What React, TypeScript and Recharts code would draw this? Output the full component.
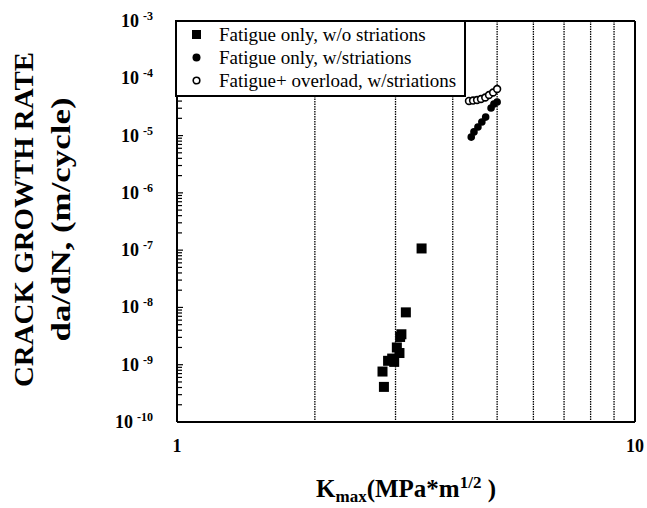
import React from 'react';
import {
  ScatterChart, Scatter, XAxis, YAxis, CartesianGrid, ReferenceLine, Legend,
} from 'recharts';

// ---- data ----
const seriesNames = [
  'Fatigue only, w/o striations',
  'Fatigue only, w/striations',
  'Fatigue+ overload, w/striations',
];

const noStriationK = [3.42, 3.16, 3.09, 3.07, 3.02, 3.06, 2.95, 2.89, 2.98, 2.81, 2.83];
const noStriationRate = [1.07e-7, 8.2e-9, 3.4e-9, 3.05e-9, 2.0e-9, 1.6e-9, 1.28e-9, 1.17e-9, 1.12e-9, 7.6e-10, 4.1e-10];

const striationK = [4.39, 4.45, 4.54, 4.63, 4.72, 4.85, 4.92, 5.0];
const striationRate = [9.4e-6, 1.16e-5, 1.41e-5, 1.73e-5, 2.1e-5, 3.03e-5, 3.56e-5, 3.85e-5];

const overloadK = [4.34, 4.43, 4.52, 4.61, 4.71, 4.8, 4.9, 5.0];
const overloadRate = [4.02e-5, 4.09e-5, 4.18e-5, 4.35e-5, 4.62e-5, 5.11e-5, 5.65e-5, 6.5e-5];

const xTicks = [1, 2, 3, 4, 5, 6, 7, 8, 9, 10];
const xTickLabels = ['1', '10'];
const yMajorTicks = [1e-10, 1e-9, 1e-8, 1e-7, 1e-6, 1e-5, 1e-4, 1e-3];
const yMajorExponents = ['-10', '-9', '-8', '-7', '-6', '-5', '-4', '-3'];
const yMinorMultipliers = [2, 3, 4, 5, 6, 7, 8, 9];

const noStriationData = noStriationK.map((k, i) => ({ k, rate: noStriationRate[i] }));
const striationData = striationK.map((k, i) => ({ k, rate: striationRate[i] }));
const overloadData = overloadK.map((k, i) => ({ k, rate: overloadRate[i] }));

const yTicks: number[] = [];
yMajorTicks.forEach((m, i) => {
  yTicks.push(m);
  if (i < yMajorTicks.length - 1) yMinorMultipliers.forEach((mm) => yTicks.push(mm * m));
});

const FONT = "'Liberation Serif', 'Times New Roman', Times, serif";

const isMajor = (v: number) => {
  const l = Math.log10(v);
  return Math.abs(l - Math.round(l)) < 1e-6;
};

const YTick = (props: any) => {
  const { x, y, payload } = props;
  const v = payload.value;
  if (isMajor(v)) {
    const idx = yMajorTicks.findIndex((t) => Math.abs(Math.log10(t) - Math.log10(v)) < 1e-6);
    return (
      <g>
        <line x1={x} x2={x + 6} y1={y} y2={y} stroke="#000" strokeWidth={1.2} />
        <text x={x - 24} y={y + 6} textAnchor="end" fontFamily={FONT} fontWeight="bold" fill="#000">
          <tspan fontSize={18}>10</tspan>
          <tspan fontSize={12} dx={4} dy={-7}>{yMajorExponents[idx]}</tspan>
        </text>
      </g>
    );
  }
  return <line x1={x} x2={x + 5} y1={y} y2={y} stroke="#000" strokeWidth={1.2} />;
};

const XTick = (props: any) => {
  const { x, y, payload } = props;
  const v = payload.value;
  let label = '';
  if (v === 1) label = xTickLabels[0];
  if (v === 10) label = xTickLabels[1];
  if (!label) return <g />;
  return (
    <text x={x} y={y + 30} textAnchor="middle" fontFamily={FONT} fontWeight="bold" fontSize={18} fill="#000">
      {label}
    </text>
  );
};

const XTitle = (props: any) => {
  const vb = props.viewBox || { x: 177, y: 422, width: 458, height: 60 };
  const cx = vb.x + vb.width / 2;
  return (
    <text x={cx} y={vb.y + 75} textAnchor="middle" fontFamily={FONT} fontWeight="bold" fill="#000">
      <tspan fontSize={25}>K</tspan>
      <tspan fontSize={17} dy={5}>max</tspan>
      <tspan fontSize={25} dy={-5}>(MPa*m</tspan>
      <tspan fontSize={17} dy={-9}>1/2</tspan>
      <tspan fontSize={25} dy={9}> )</tspan>
    </text>
  );
};

const YTitle = (props: any) => {
  const vb = props.viewBox || { x: 0, y: 21, width: 177, height: 401 };
  const cy = vb.y + vb.height / 2 - 2;
  return (
    <g>
      <text transform={`translate(33, ${cy}) rotate(-90)`} textAnchor="middle" fontFamily={FONT}
        fontWeight="bold" fontSize={27} fill="#000" textLength={335} lengthAdjust="spacingAndGlyphs">
        CRACK GROWTH RATE
      </text>
      <text transform={`translate(70, ${cy}) rotate(-90)`} textAnchor="middle" fontFamily={FONT}
        fontWeight="bold" fontSize={27} fill="#000" textLength={244} lengthAdjust="spacingAndGlyphs">
        da/dN, (m/cycle)
      </text>
    </g>
  );
};

const SquareShape = (props: any) => {
  const { cx, cy } = props;
  return <rect x={cx - 5} y={cy - 5} width={10} height={10} fill="#000" />;
};
const DotShape = (props: any) => {
  const { cx, cy } = props;
  return <circle cx={cx} cy={cy} r={3.8} fill="#000" />;
};
const RingShape = (props: any) => {
  const { cx, cy } = props;
  return <circle cx={cx} cy={cy} r={3.4} fill="#fff" stroke="#000" strokeWidth={1.6} />;
};

const legendMarkers = [
  <rect x={2} y={2} width={9} height={9} fill="#000" />,
  <circle cx={6.5} cy={6.5} r={4} fill="#000" />,
  <circle cx={6.5} cy={6.5} r={3.3} fill="#fff" stroke="#000" strokeWidth={1.6} />,
];

const LegendBox = (props: any) => {
  const payload = props.payload || [];
  return (
    <div style={{
      width: 287, height: 73, background: '#fff', border: '2px solid #000',
      fontFamily: FONT, fontSize: 19, color: '#000', boxSizing: 'content-box', position: 'relative',
    }}>
      {payload.map((p: any, i: number) => (
        <div key={i} style={{ position: 'absolute', left: 0, top: 1 + i * 23, height: 23, display: 'flex', alignItems: 'center', whiteSpace: 'nowrap' }}>
          <svg width={13} height={13} style={{ marginLeft: 13, marginRight: 16 }}>{legendMarkers[i]}</svg>
          <span style={{ fontFamily: FONT, fontSize: 19 }}>{p.value}</span>
        </div>
      ))}
    </div>
  );
};

export default function App() {
  return (
    <div style={{ position: 'absolute', left: 0, top: 0, width: 647, height: 508, overflow: 'hidden', background: '#fff' }}>
      <ScatterChart width={647} height={508} margin={{ top: 21, right: 12, bottom: 26, left: 0 }}>
        <CartesianGrid horizontal={false} vertical={true} stroke="#000" strokeDasharray="1.5 1" strokeWidth={1.3} />
        <XAxis dataKey="k" type="number" scale="log" domain={[1, 10]} ticks={xTicks} interval={0}
          allowDataOverflow height={60} tickSize={0} tickMargin={0} tick={<XTick />}
          axisLine={{ stroke: '#000', strokeWidth: 2 }} tickLine={false} label={<XTitle />} />
        <YAxis dataKey="rate" type="number" scale="log" domain={[1e-10, 1e-3]} ticks={yTicks} interval={0}
          allowDataOverflow width={177} tickSize={0} tickMargin={0} tick={<YTick />}
          axisLine={{ stroke: '#000', strokeWidth: 2 }} tickLine={false} label={<YTitle />} />
        <ReferenceLine x={10} stroke="#000" strokeWidth={2} />
        <ReferenceLine y={1e-3} stroke="#000" strokeWidth={2} />
        <Scatter name={seriesNames[0]} data={noStriationData} shape={<SquareShape />} fill="#000" isAnimationActive={false} />
        <Scatter name={seriesNames[1]} data={striationData} shape={<DotShape />} fill="#000" isAnimationActive={false} />
        <Scatter name={seriesNames[2]} data={overloadData} shape={<RingShape />} fill="#fff" isAnimationActive={false} />
        <Legend layout="horizontal" verticalAlign="middle" align="center" content={<LegendBox />}
          wrapperStyle={{ position: 'absolute', left: 175, top: 20, width: 291, height: 77 }} />
      </ScatterChart>
    </div>
  );
}
